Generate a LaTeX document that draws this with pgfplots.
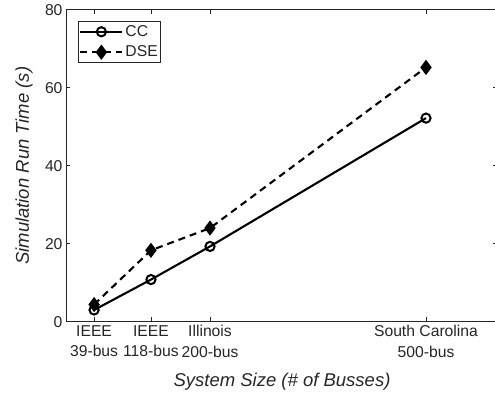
\documentclass[border=0pt]{standalone}
\usepackage{fontspec}
\setmainfont{Liberation Sans}
\usepackage{pgfplots}
\pgfplotsset{compat=1.18}
\definecolor{axgray}{HTML}{262626}
\begin{document}
\begin{tikzpicture}
\begin{axis}[
  scale only axis, width=432pt, height=312pt,
  xmin=0, xmax=600, ymin=0, ymax=80,
  xtick={39,118,200,500},
  xticklabels={{IEEE\\39-bus},{IEEE\\118-bus},{Illinois\\200-bus},{South Carolina\\500-bus}},
  ytick={0,20,40,60,80},
  tick align=inside, tick pos=both, major tick length=4.5pt,
  /pgf/number format/assume math mode=true,
  tick label style={font=\fontsize{15.7}{20.6}\selectfont, color=axgray},
  xticklabel style={align=center},
  axis line style={axgray, line width=0.7pt},
  every tick/.style={axgray, line width=0.7pt},
  xlabel={System Size (\# of Busses)},
  ylabel={Simulation Run Time (s)},
  label style={font=\fontsize{18.5}{22}\selectfont\itshape, color=axgray},
  xlabel style={at={(axis description cs:0.5,0)}, anchor=base, yshift=-65pt},
  ylabel style={at={([xshift=-42pt]axis description cs:0,0.5)}, anchor=center},
  legend style={at={(axis description cs:0,1)}, anchor=north west, xshift=12pt, yshift=-11.5pt,
    draw=axgray, line width=0.7pt, fill=white, font=\fontsize{15.7}{18}\selectfont,
    inner xsep=1pt, inner ysep=2pt, row sep=4pt,
    nodes={inner xsep=2pt, inner ysep=2pt, text=axgray}},
  legend cell align=left,
  legend image code/.code={\draw[mark repeat=2, mark phase=2] plot coordinates {(0pt,0pt) (21pt,0pt) (42pt,0pt)};},
]
\addplot[black, line width=2.1pt, mark=o, mark size=4.6pt, mark options={solid, line width=2pt}]
  coordinates {(39,3.0) (118,10.8) (200,19.3) (500,52.2)};
\addlegendentry{CC}
\addplot[black, line width=2.1pt, dash pattern=on 7pt off 5pt, mark=diamond*, mark size=6.8pt, mark options={solid, line width=1pt}]
  coordinates {(39,4.4) (118,18.3) (200,24.0) (500,65.2)};
\addlegendentry{DSE}
\end{axis}
\pgfresetboundingbox
\path (current axis.south west) ++(-66pt,-79.3pt) rectangle ++(495pt,401pt);
\end{tikzpicture}
\end{document}
